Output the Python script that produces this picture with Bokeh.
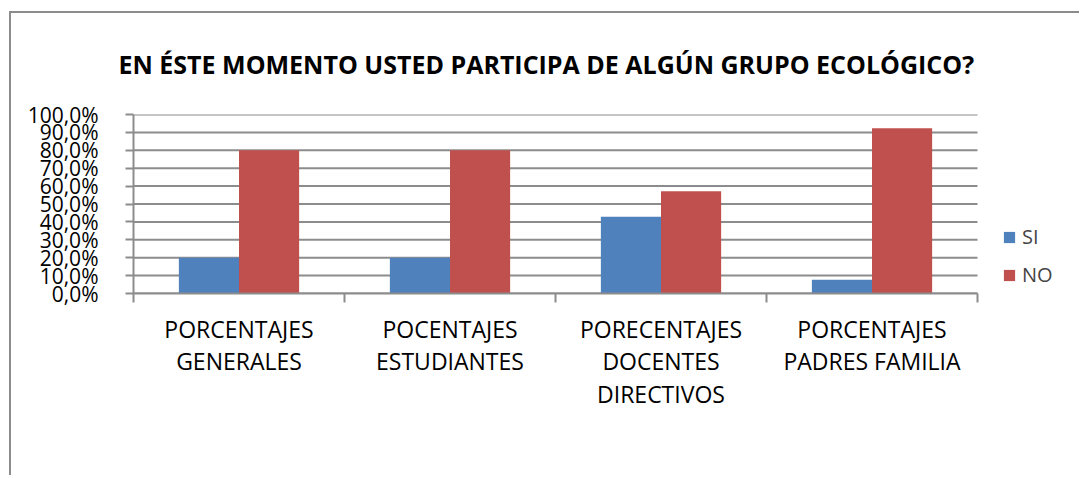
from bokeh.plotting import figure
from bokeh.models import FixedTicker, Legend, LegendItem, Range1d, Title, ColumnDataSource
from bokeh.embed import file_html
from bokeh.resources import INLINE

# ---- data ----
categories = [
    "PORCENTAJES\nGENERALES",
    "POCENTAJES\nESTUDIANTES",
    "PORECENTAJES\nDOCENTES\nDIRECTIVOS",
    "PORCENTAJES\nPADRES FAMILIA",
]
si_values = [20.0, 20.0, 42.9, 7.7]
no_values = [80.0, 80.0, 57.1, 92.3]
series_names = ["SI", "NO"]
y_ticks = [0, 10, 20, 30, 40, 50, 60, 70, 80, 90, 100]
y_tick_labels = ["0,0%", "10,0%", "20,0%", "30,0%", "40,0%", "50,0%",
                 "60,0%", "70,0%", "80,0%", "90,0%", "100,0%"]
title_text = "EN ÉSTE MOMENTO USTED PARTICIPA DE ALGÚN GRUPO ECOLÓGICO?"

# ---- style / layout ----
BLUE = "#4F81BD"
RED = "#C0504D"
GRAY = "#8c8c8c"
FONT = "Open Sans"
BAR_W = 0.285
W, H = 1070, 464
LEFT, TOP, BOTTOM = 122, 101, 184
PLOT_PX = 844                       # pixel width of the category area
FRAME_PX = W - LEFT                 # frame runs to the right edge (legend lives there)

n = len(categories)
x_end = n * FRAME_PX / PLOT_PX
centers = [i + 0.5 for i in range(n)]
src_si = ColumnDataSource(dict(x=[c - BAR_W / 2 for c in centers], top=si_values))
src_no = ColumnDataSource(dict(x=[c + BAR_W / 2 for c in centers], top=no_values))
src_grid = ColumnDataSource(dict(x0=[0] * len(y_ticks), x1=[n] * len(y_ticks), y=y_ticks))

p = figure(
    width=W, height=H,
    x_range=Range1d(0, x_end), y_range=Range1d(0, 100),
    output_backend="svg", toolbar_location=None,
    min_border_left=LEFT, min_border_right=0,
    min_border_top=TOP, min_border_bottom=BOTTOM,
    outline_line_color=None,
    background_fill_color="white", border_fill_color="white",
)
p.styles = {"border-left": "2px solid #8c8c8c", "border-top": "2px solid #8c8c8c",
            "margin-top": "11px", "margin-left": "9px"}

p.title = Title(text=title_text, align="left", vertical_align="top", text_font=FONT,
                text_font_size="25px", text_font_style="bold",
                text_color="black", standoff=64, offset=-15)

# horizontal gridlines limited to the category area
p.segment(x0="x0", x1="x1", y0="y", y1="y", source=src_grid,
          line_color=GRAY, line_width=2)

r_si = p.vbar(x="x", top="top", width=BAR_W, bottom=0, source=src_si,
              fill_color=BLUE, line_color=None)
r_no = p.vbar(x="x", top="top", width=BAR_W, bottom=0, source=src_no,
              fill_color=RED, line_color=None)

# x axis: labels at centres, ticks at category boundaries
xa = p.xaxis[0]
xa.bounds = (0, n)
xa.ticker = FixedTicker(ticks=centers, minor_ticks=list(range(n + 1)))
xa.major_label_overrides = {c: lab for c, lab in zip(centers, categories)}
xa.major_tick_out = 0
xa.major_tick_in = 0
xa.minor_tick_out = 9
xa.minor_tick_in = 0
xa.minor_tick_line_color = GRAY
xa.minor_tick_line_width = 2
xa.axis_line_color = GRAY
xa.axis_line_width = 2
xa.major_label_text_font = FONT
xa.major_label_text_font_size = "23px"
xa.major_label_text_color = "black"
xa.major_label_text_line_height = 1.02
xa.major_label_standoff = 10

ya = p.yaxis[0]
ya.ticker = FixedTicker(ticks=y_ticks, minor_ticks=[])
ya.major_label_overrides = {t: lab for t, lab in zip(y_ticks, y_tick_labels)}
ya.major_tick_out = 8
ya.major_tick_in = 0
ya.major_tick_line_color = GRAY
ya.major_tick_line_width = 2
ya.axis_line_color = GRAY
ya.axis_line_width = 2
ya.major_label_text_font = FONT
ya.major_label_text_font_size = "21px"
ya.major_label_text_color = "black"
ya.major_label_standoff = 27

p.xgrid.visible = False
p.ygrid.visible = False

legend = Legend(
    items=[LegendItem(label=series_names[0], renderers=[r_si]),
           LegendItem(label=series_names[1], renderers=[r_no])],
    location=(PLOT_PX + 25, 5), padding=0, margin=0,
    border_line_color=None, background_fill_alpha=0,
    glyph_width=14, glyph_height=14, label_height=20, spacing=11,
    label_standoff=6, label_text_font=FONT, label_text_font_size="20px",
)
p.add_layout(legend)

open("out.html", "w").write(file_html(p, INLINE))
